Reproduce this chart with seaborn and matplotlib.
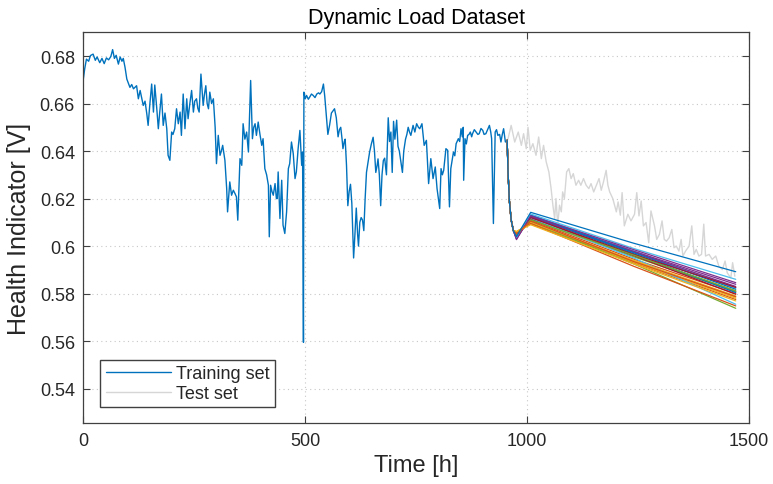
import numpy as np
import pandas as pd
import matplotlib
matplotlib.use("Agg")
import matplotlib.pyplot as plt
import seaborn as sns

# Training set: health indicator [V] over time [h]
train_hours = [0, 3, 7, 12, 16, 22, 27, 31, 37, 42, 47, 52, 57, 62, 66, 70, 74, 79, 83, 87,
               90, 94, 98, 105, 109, 113, 120, 124, 128, 135, 139, 143, 146, 150, 154, 158, 161, 165, 169, 172,
               176, 180, 184, 188, 191, 195, 199, 202, 206, 210, 214, 218, 221, 225, 229, 233, 236, 240, 244, 248,
               251, 255, 258, 261, 265, 270, 273, 276, 279, 282, 285, 289, 293, 297, 300, 304, 308, 311, 314, 319,
               323, 325, 330, 334, 338, 342, 345, 348, 353, 357, 360, 364, 368, 372, 377, 381, 384, 387, 390, 394,
               398, 402, 405, 409, 413, 417, 419, 422, 425, 428, 432, 435, 437, 439, 443, 447, 450, 454, 458, 462,
               465, 469, 473, 477, 480, 484, 488, 492, 494, 496, 497, 500, 503, 507, 510, 514, 518, 522, 526, 530,
               533, 537, 541, 544, 547, 551, 555, 559, 563, 566, 570, 574, 577, 580, 583, 585, 588, 590, 593, 596,
               599, 602, 605, 609, 612, 615, 618, 620, 623, 626, 629, 632, 635, 638, 642, 645, 649, 653, 656, 659,
               662, 664, 667, 670, 673, 676, 679, 683, 687, 690, 693, 696, 699, 702, 706, 709, 712, 716, 719, 722,
               726, 729, 732, 735, 738, 743, 747, 751, 755, 758, 763, 768, 773, 778, 783, 788, 793, 797, 800, 803,
               806, 809, 812, 817, 821, 825, 828, 831, 834, 837, 840, 845, 848, 851, 854, 856, 857, 860, 863, 866,
               869, 872, 875, 877, 881, 885, 889, 892, 896, 900, 903, 907, 911, 915, 918, 920, 924, 928, 931, 934,
               938, 941, 944, 947, 951, 955]
train_hi = [0.6703, 0.6745, 0.6787, 0.6778, 0.6802, 0.6808, 0.6782, 0.6796, 0.6772, 0.6790, 0.6768, 0.6792, 0.6784, 0.6798, 0.6827, 0.6790, 0.6803, 0.6766, 0.6796, 0.6778,
            0.6790, 0.6752, 0.6703, 0.6668, 0.6680, 0.6662, 0.6675, 0.6620, 0.6655, 0.6592, 0.6610, 0.6557, 0.6508, 0.6600, 0.6682, 0.6564, 0.6678, 0.6590, 0.6494, 0.6560,
            0.6640, 0.6508, 0.6560, 0.6494, 0.6382, 0.6361, 0.6480, 0.6470, 0.6494, 0.6578, 0.6515, 0.6564, 0.6466, 0.6640, 0.6494, 0.6620, 0.6536, 0.6600, 0.6655, 0.6564,
            0.6610, 0.6620, 0.6580, 0.6564, 0.6724, 0.6592, 0.6640, 0.6675, 0.6600, 0.6578, 0.6648, 0.6600, 0.6620, 0.6501, 0.6347, 0.6466, 0.6382, 0.6400, 0.6424, 0.6361,
            0.6242, 0.6144, 0.6270, 0.6214, 0.6235, 0.6220, 0.6207, 0.6109, 0.6368, 0.6340, 0.6515, 0.6450, 0.6480, 0.6396, 0.6697, 0.6452, 0.6500, 0.6515, 0.6466, 0.6522,
            0.6470, 0.6424, 0.6452, 0.6326, 0.6300, 0.6256, 0.6039, 0.6256, 0.6230, 0.6214, 0.6263, 0.6200, 0.6200, 0.6312, 0.6116, 0.6277, 0.6088, 0.6053, 0.6144, 0.6326,
            0.6347, 0.6438, 0.6389, 0.6284, 0.6312, 0.6410, 0.6487, 0.6340, 0.6396, 0.5595, 0.6648, 0.6620, 0.6634, 0.6618, 0.6627, 0.6640, 0.6634, 0.6625, 0.6640, 0.6645,
            0.6640, 0.6650, 0.6682, 0.6630, 0.6560, 0.6470, 0.6510, 0.6560, 0.6570, 0.6578, 0.6540, 0.6460, 0.6490, 0.6500, 0.6450, 0.6410, 0.6440, 0.6450, 0.6340, 0.6170,
            0.6230, 0.6260, 0.6180, 0.5950, 0.6050, 0.6160, 0.6050, 0.6000, 0.6100, 0.6120, 0.6110, 0.6065, 0.6200, 0.6310, 0.6360, 0.6395, 0.6430, 0.6458, 0.6400, 0.6310,
            0.6340, 0.6367, 0.6300, 0.6170, 0.6300, 0.6360, 0.6370, 0.6300, 0.6540, 0.6440, 0.6480, 0.6310, 0.6525, 0.6450, 0.6530, 0.6420, 0.6400, 0.6350, 0.6310, 0.6400,
            0.6450, 0.6470, 0.6500, 0.6480, 0.6466, 0.6508, 0.6480, 0.6515, 0.6500, 0.6494, 0.6515, 0.6424, 0.6445, 0.6263, 0.6368, 0.6284, 0.6333, 0.6242, 0.6200, 0.6158,
            0.6326, 0.6300, 0.6319, 0.6410, 0.6403, 0.6165, 0.6326, 0.6360, 0.6396, 0.6380, 0.6431, 0.6452, 0.6440, 0.6494, 0.6460, 0.6500, 0.6277, 0.6452, 0.6430, 0.6466,
            0.6470, 0.6480, 0.6460, 0.6473, 0.6490, 0.6480, 0.6470, 0.6473, 0.6495, 0.6487, 0.6470, 0.6473, 0.6490, 0.6508, 0.6480, 0.6452, 0.6095, 0.6480, 0.6490, 0.6466,
            0.6470, 0.6438, 0.6470, 0.6494, 0.6438, 0.6445]

# Test set: measured health indicator after the training window
test_hours = [955, 957, 964, 972, 980, 987, 992, 998, 1002, 1007, 1013, 1020, 1026, 1032, 1037, 1043, 1049, 1054, 1058, 1062,
              1065, 1069, 1073, 1077, 1080, 1084, 1089, 1094, 1099, 1104, 1110, 1116, 1121, 1127, 1133, 1139, 1144, 1150, 1156, 1162,
              1167, 1172, 1178, 1182, 1186, 1193, 1201, 1205, 1210, 1214, 1219, 1227, 1234, 1242, 1247, 1252, 1257, 1262, 1268, 1274,
              1279, 1287, 1292, 1298, 1304, 1309, 1314, 1320, 1326, 1331, 1336, 1342, 1347, 1351, 1357, 1365, 1371, 1376, 1381, 1387,
              1393, 1398, 1402, 1410, 1417, 1425, 1432, 1440, 1446, 1451, 1459, 1463, 1468]
test_hi = [0.6445, 0.6452, 0.6508, 0.6438, 0.6480, 0.6424, 0.6473, 0.6410, 0.6500, 0.6403, 0.6431, 0.6382, 0.6459, 0.6368, 0.6424, 0.6354, 0.6312, 0.6242, 0.6172, 0.6116,
           0.6200, 0.6088, 0.6172, 0.6144, 0.6228, 0.6200, 0.6312, 0.6326, 0.6284, 0.6305, 0.6256, 0.6277, 0.6256, 0.6284, 0.6256, 0.6242, 0.6263, 0.6228, 0.6256, 0.6284,
           0.6235, 0.6270, 0.6319, 0.6256, 0.6228, 0.6200, 0.6144, 0.6186, 0.6130, 0.6225, 0.6085, 0.6134, 0.6106, 0.6134, 0.6225, 0.6127, 0.6190, 0.6085, 0.6099, 0.6014,
           0.6148, 0.6085, 0.6028, 0.6049, 0.6106, 0.6028, 0.6021, 0.6035, 0.6070, 0.5993, 0.6000, 0.5979, 0.6028, 0.5958, 0.5979, 0.6000, 0.6085, 0.5965, 0.5986, 0.5958,
           0.5965, 0.6092, 0.5958, 0.5965, 0.5944, 0.5958, 0.5915, 0.5901, 0.5937, 0.5887, 0.5866, 0.5930, 0.5873]

# Forecast runs: shared drop after the last training point, then per-run trough, peak, mid and end values
pred_hours = [955, 957, 960, 964, 969, 976, 1008, 1240, 1470]
pred_head = [0.6445, 0.6310, 0.6190, 0.6110, 0.6065]
pred_min = [0.6040, 0.6050, 0.6060, 0.6027, 0.6045, 0.6035, 0.6040, 0.6038, 0.6055, 0.6058, 0.6030, 0.6050,
            0.6045, 0.6042, 0.6040, 0.6052, 0.6062, 0.6032, 0.6048, 0.6036, 0.6044, 0.6037, 0.6054, 0.6060]
pred_peak = [0.6142, 0.6105, 0.6090, 0.6128, 0.6110, 0.6135, 0.6120, 0.6130, 0.6095, 0.6100, 0.6125, 0.6100,
             0.6118, 0.6115, 0.6127, 0.6108, 0.6092, 0.6122, 0.6112, 0.6132, 0.6118, 0.6128, 0.6100, 0.6096]
pred_mid = [0.6012, 0.5935, 0.5925, 0.5985, 0.5962, 0.5990, 0.5965, 0.5972, 0.5915, 0.5940, 0.5978, 0.5925,
            0.5950, 0.5960, 0.5968, 0.5945, 0.5932, 0.5975, 0.5955, 0.5980, 0.5962, 0.5975, 0.5930, 0.5938]
pred_end = [0.5892, 0.5787, 0.5769, 0.5846, 0.5812, 0.5860, 0.5826, 0.5818, 0.5748, 0.5790, 0.5839, 0.5738,
            0.5755, 0.5797, 0.5804, 0.5800, 0.5780, 0.5830, 0.5808, 0.5822, 0.5810, 0.5825, 0.5775, 0.5785]

y_ticks = [0.54, 0.56, 0.58, 0.60, 0.62, 0.64, 0.66, 0.68]
y_tick_labels = ["0.54", "0.56", "0.58", "0.6", "0.62", "0.64", "0.66", "0.68"]
x_ticks = [0, 500, 1000, 1500]

run_colors = ["#0072BD", "#D95319", "#EDB120", "#7E2F8E", "#77AC30", "#4DBEEE", "#A2142F"]

sns.set_style("ticks")
plt.rcParams["font.family"] = ["Liberation Sans", "DejaVu Sans"]

train_df = pd.DataFrame({"t": train_hours, "hi": train_hi})
test_df = pd.DataFrame({"t": test_hours, "hi": test_hi})
n_runs = len(pred_end)

fig = plt.figure(figsize=(7.73, 4.85), dpi=100)
ax = fig.add_axes([0.1078, 0.1252, 0.8612, 0.8062])

sns.lineplot(data=train_df, x="t", y="hi", ax=ax, color="#0072BD", lw=1.0,
             estimator=None, sort=False, label="Training set")
sns.lineplot(data=test_df, x="t", y="hi", ax=ax, color="#d6d6d6", lw=1.0,
             estimator=None, sort=False, label="Test set")

# later runs first so that run 0 (blue) ends up on top
for k in reversed(range(n_runs)):
    run_df = pd.DataFrame({
        "t": pred_hours,
        "hi": pred_head + [pred_min[k], pred_peak[k], pred_mid[k], pred_end[k]],
    })
    sns.lineplot(data=run_df, x="t", y="hi", ax=ax, color=run_colors[k % len(run_colors)],
                 lw=0.9, estimator=None, sort=False, legend=False)

ax.set_xlim(0, 1500)
ax.set_ylim(0.5254, 0.69)
ax.set_xticks(x_ticks)
ax.set_xticklabels([str(v) for v in x_ticks])
ax.set_yticks(y_ticks)
ax.set_yticklabels(y_tick_labels)

ax.grid(True, color="#c8c8c8", linestyle=(0, (1, 3)), linewidth=0.8)
ax.tick_params(direction="in", top=True, right=True, length=5, width=0.8,
               color="#404040", labelsize=13, labelcolor="#262626", pad=6)
for sp in ax.spines.values():
    sp.set_color("#404040")
    sp.set_linewidth(0.9)

ax.set_xlabel("Time [h]", fontsize=17, color="#262626", labelpad=4)
ax.set_ylabel("Health Indicator [V]", fontsize=18, color="#262626", labelpad=6)
ax.set_title("Dynamic Load Dataset", fontsize=15.5, color="black", pad=7)

handles = ax.get_lines()[:2]
ax.legend(handles, ["Training set", "Test set"], loc="lower left",
          bbox_to_anchor=(0.0255, 0.041), borderaxespad=0, frameon=True,
          fancybox=False, edgecolor="#404040", framealpha=1, fontsize=13,
          handlelength=3.6, borderpad=0.3, labelspacing=0.15, handletextpad=0.3)

fig.savefig("out.png", dpi=100)
